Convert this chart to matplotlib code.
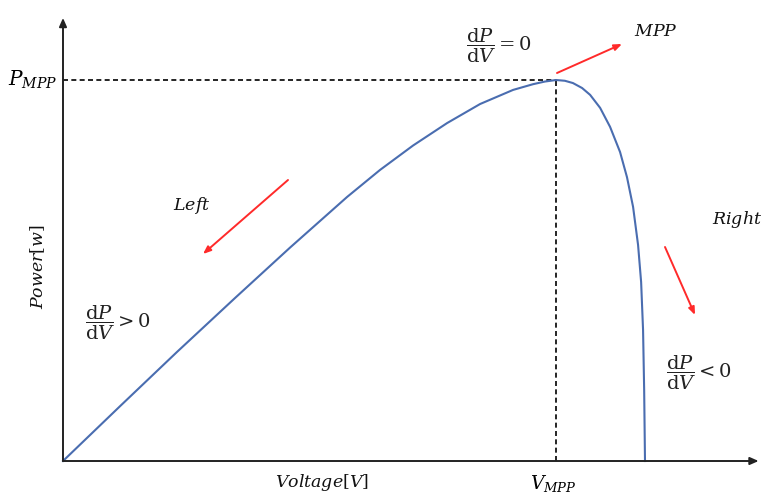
import matplotlib.pyplot as plt

plt.rcParams['mathtext.fontset'] = 'dejavuserif'
plt.rcParams['font.family'] = 'DejaVu Serif'

# P-V curve of a PV panel (volts, watts)
voltage = [0, 2.06, 4.11, 6.21, 8.19, 10.25, 11.44, 12.63, 13.86, 15.05, 16.24,
           16.96, 17.39, 17.79, 18.11, 18.40, 18.73, 19.02, 19.38, 19.74, 20.10,
           20.35, 20.57, 20.75, 20.86, 20.93, 20.97, 21.0]
power = [0, 14.4, 28.6, 42.8, 56.0, 69.3, 76.4, 82.8, 88.7, 93.7, 97.4,
         98.9, 99.6, 100.0, 99.8, 99.2, 97.9, 96.1, 92.7, 87.7, 81.1,
         74.5, 66.7, 56.7, 47.0, 34.4, 18.6, 0]
v_mpp = 17.79
p_mpp = 100.0

W, H = 766, 494


def px(x, y):
    # pixel position -> figure fraction
    return (x / W, 1 - y / H)


fig = plt.figure(figsize=(W / 100, H / 100), dpi=100)
ax = fig.add_axes([0, 0, 1, 1])
ax.set_xlim(-2.273, 25.366)
ax.set_ylim(-8.66, 121.0)
ax.axis('off')

# axes with arrow heads
axis_col = '#222222'
ax.annotate('', xy=(0, 116.3), xytext=(0, 0),
            arrowprops=dict(arrowstyle='-|>,head_length=0.5,head_width=0.22',
                            color=axis_col, lw=1.4, shrinkA=0, shrinkB=0))
ax.annotate('', xy=(25.1, 0), xytext=(0, 0),
            arrowprops=dict(arrowstyle='-|>,head_length=0.5,head_width=0.22',
                            color=axis_col, lw=1.4, shrinkA=0, shrinkB=0))

# MPP guide lines
ax.plot([0, v_mpp], [p_mpp, p_mpp], color='black', lw=1.2, ls=(0, (3, 2)))
ax.plot([v_mpp, v_mpp], [0, p_mpp], color='black', lw=1.2, ls=(0, (3, 2)))

# the curve
ax.plot(voltage, power, color='#4a6db0', lw=1.5, solid_joinstyle='round')

# red arrows
red = '#ff2a2a'
arrow_kw = dict(arrowstyle='-|>,head_length=0.45,head_width=0.18', color=red, lw=1.4,
                shrinkA=0, shrinkB=0)
ax.annotate('', xy=px(203, 254), xytext=px(288, 180), xycoords='figure fraction',
            textcoords='figure fraction', arrowprops=arrow_kw)
ax.annotate('', xy=px(622, 44), xytext=px(557, 73), xycoords='figure fraction',
            textcoords='figure fraction', arrowprops=arrow_kw)
ax.annotate('', xy=px(695, 315), xytext=px(665, 247), xycoords='figure fraction',
            textcoords='figure fraction', arrowprops=arrow_kw)

# labels
lab = dict(transform=fig.transFigure, fontsize=12.5, color='#111111')
fig.text(*px(57, 80), r'$P_{MPP}$', ha='right', va='center', fontsize=14.5,
         transform=fig.transFigure)
fig.text(*px(553, 483), r'$V_{MPP}$', ha='center', va='center', fontsize=13.5,
         transform=fig.transFigure)
fig.text(*px(322, 482), r'$Voltage[V]$', ha='center', va='center', **lab)
fig.text(*px(38, 267), r'$Power[w]$', ha='center', va='center', rotation=90, **lab)
fig.text(*px(192, 205), r'$Left$', ha='center', va='center', **lab)
fig.text(*px(737, 220), r'$Right$', ha='center', va='center', **lab)
fig.text(*px(656, 31), r'$MPP$', ha='center', va='center', **lab)

frac = dict(transform=fig.transFigure, fontsize=14, color='#222222', ha='left', va='center')
fig.text(*px(466, 46), r'$\dfrac{\mathrm{d}P}{\mathrm{d}V} = 0$', **frac)
fig.text(*px(85, 323), r'$\dfrac{\mathrm{d}P}{\mathrm{d}V} > 0$', **frac)
fig.text(*px(666, 373), r'$\dfrac{\mathrm{d}P}{\mathrm{d}V} < 0$', **frac)

fig.savefig('out.png', dpi=100)
